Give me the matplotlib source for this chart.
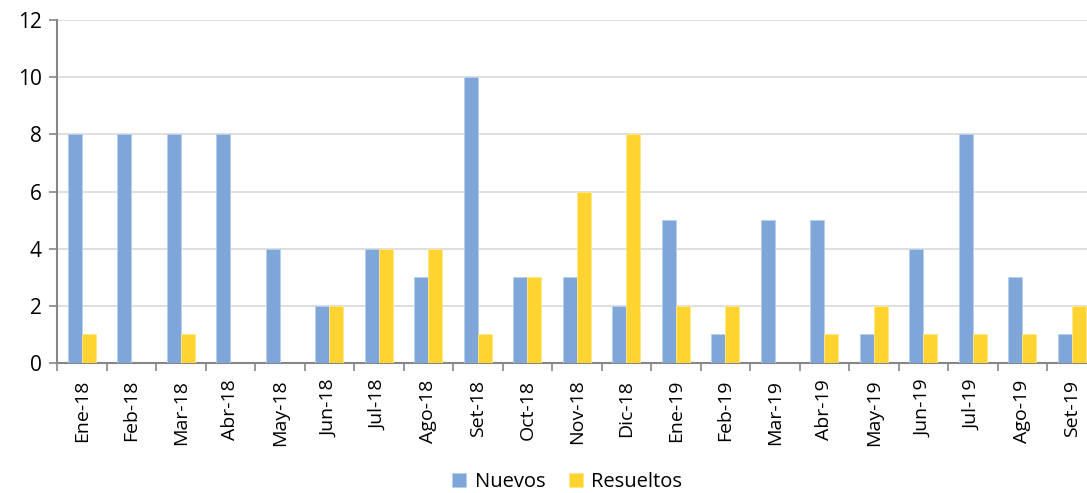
import numpy as np
import matplotlib.pyplot as plt

meses = ["Ene-18", "Feb-18", "Mar-18", "Abr-18", "May-18", "Jun-18", "Jul-18",
         "Ago-18", "Set-18", "Oct-18", "Nov-18", "Dic-18", "Ene-19", "Feb-19",
         "Mar-19", "Abr-19", "May-19", "Jun-19", "Jul-19", "Ago-19", "Set-19"]
nuevos = [8, 8, 8, 8, 4, 2, 4, 3, 10, 3, 3, 2, 5, 1, 5, 5, 1, 4, 8, 3, 1]
resueltos = [1, 0, 1, 0, 0, 2, 4, 4, 1, 3, 6, 8, 2, 2, 0, 1, 2, 1, 1, 1, 2]

plt.rcParams['font.family'] = ['Open Sans', 'DejaVu Sans']

fig = plt.figure(figsize=(10.87, 4.93), dpi=100)
# axes runs a bit past the right edge, like the cropped original
ax = fig.add_axes([57 / 1087, 1 - 363 / 493, (21 * 49.5) / 1087, 343 / 493])

x = np.arange(len(meses))
w = 0.283
ax.bar(x - w / 2, nuevos, w, color="#7EA6D9", edgecolor="#B8CFEC", linewidth=0.6,
       label="Nuevos", zorder=3)
ax.bar(x + w / 2, resueltos, w, color="#FFD430", edgecolor="#FFE88A", linewidth=0.6,
       label="Resueltos", zorder=3)

ax.set_ylim(0, 12)
ax.set_yticks(range(0, 13, 2))
ax.set_xlim(-0.5, len(meses) - 0.5)
ax.set_xticks(x)
ax.set_xticklabels(meses, rotation=90, fontsize=14)
ax.set_xticks(np.arange(-0.5, len(meses), 1), minor=True)
ax.tick_params(axis="x", which="major", length=0, pad=12)
ax.tick_params(axis="x", which="minor", length=6, color="#868686", width=1.2)
ax.tick_params(axis="y", length=6, color="#868686", width=1.2, labelsize=15, pad=5)

ax.grid(axis="y", color="#D9D9D9", linewidth=1.2, zorder=0)
for s in ["top", "right"]:
    ax.spines[s].set_visible(False)
for s in ["left", "bottom"]:
    ax.spines[s].set_color("#868686")
    ax.spines[s].set_linewidth(1.5)

fig.legend(loc="lower center", bbox_to_anchor=(0.522, -0.035), ncol=2, frameon=False,
           fontsize=14.5, handlelength=0.7, handleheight=0.7, handletextpad=0.4,
           columnspacing=1.2)

fig.savefig("out.png", dpi=100)
